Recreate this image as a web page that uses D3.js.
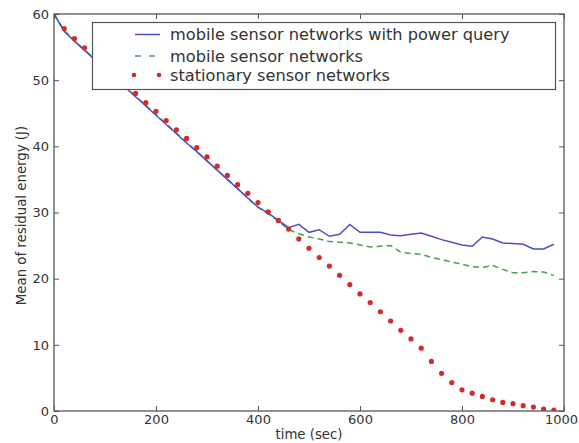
<!DOCTYPE html>
<html>
<head>
<meta charset="utf-8">
<script src="https://cdnjs.cloudflare.com/ajax/libs/d3/7.8.5/d3.min.js"></script>
<style>
  html, body { margin: 0; padding: 0; background: #fff; }
  #chart { width: 579px; height: 443px; }
  text { font-family: "DejaVu Sans", sans-serif; fill: #333; }
</style>
</head>
<body>
<div id="chart"></div>
<script>
// time axis (sec), one sample every 20 s
const time_sec = [0, 20, 40, 60, 80, 100, 120, 140, 160, 180,
  200, 220, 240, 260, 280, 300, 320, 340, 360, 380,
  400, 420, 440, 460, 480, 500, 520, 540, 560, 580,
  600, 620, 640, 660, 680, 700, 720, 740, 760, 780,
  800, 820, 840, 860, 880, 900, 920, 940, 960, 980];

// mean residual energy (J)
const power_query_energy = [60.0, 57.4, 55.9, 54.5, 53.1, 51.7, 50.3, 48.9, 47.5, 46.1,
  44.7, 43.3, 41.9, 40.5, 39.2, 37.8, 36.4, 35.0, 33.6, 32.2,
  30.8, 29.9, 28.8, 27.7, 28.2, 27.0, 27.4, 26.4, 26.7, 28.2,
  27.0, 27.0, 27.0, 26.6, 26.5, 26.7, 26.9, 26.4, 25.9, 25.5,
  25.1, 24.9, 26.3, 26.0, 25.4, 25.3, 25.2, 24.5, 24.5, 25.2];

const mobile_energy = [60.0, 57.5, 56.0, 54.6, 53.2, 51.8, 50.4, 49.0, 47.6, 46.2,
  44.8, 43.4, 42.0, 40.6, 39.2, 37.8, 36.4, 35.0, 33.6, 32.2,
  30.8, 29.8, 28.7, 27.4, 26.8, 26.3, 26.0, 25.6, 25.5, 25.4,
  25.1, 24.8, 24.9, 25.0, 24.0, 23.8, 23.7, 23.2, 22.9, 22.5,
  22.2, 21.8, 21.7, 22.0, 21.4, 20.9, 20.9, 21.1, 21.0, 20.5];

const stationary_energy = [60.0, 57.8, 56.3, 54.9, 53.5, 52.1, 50.8, 49.4, 48.0, 46.6,
  45.3, 43.9, 42.5, 41.2, 39.8, 38.4, 37.0, 35.6, 34.2, 32.9,
  31.5, 30.1, 28.8, 27.5, 26.0, 24.6, 23.2, 21.9, 20.5, 19.1,
  17.7, 16.4, 15.0, 13.6, 12.2, 10.9, 9.5, 7.5, 5.7, 4.3,
  3.2, 2.7, 2.2, 1.7, 1.3, 1.1, 0.8, 0.6, 0.3, 0.15];

const x_ticks = [0, 200, 400, 600, 800, 1000];
const y_ticks = [0, 10, 20, 30, 40, 50, 60];
const legend_labels = ["mobile sensor networks with power query", "mobile sensor networks", "stationary sensor networks"];

class EnergyChart {
  width = 579;
  height = 443;
  margin = {top: 14, right: 15, bottom: 32, left: 54};
  constructor(container){
    this.container = container;
    this.#init();
  }
  #init = () => {
    this.svg = d3.select(this.container)
      .append("svg")
        .attr("width", this.width)
        .attr("height", this.height);
    this.plot_w = this.width - this.margin.left - this.margin.right;
    this.plot_h = this.height - this.margin.top - this.margin.bottom;
    this.x = d3.scaleLinear().domain([0, 1000]).range([0, this.plot_w]);
    this.y = d3.scaleLinear().domain([0, 60]).range([this.plot_h, 0]);
    this.g = this.svg.append("g")
      .attr("transform", `translate(${this.margin.left},${this.margin.top})`);
    this.#draw_series();
    this.#draw_axes();
    this.#draw_legend();
  }
  #draw_series = () => {
    this.svg.append("clipPath")
        .attr("id", "plot-clip")
      .append("rect")
        .attr("width", this.plot_w)
        .attr("height", this.plot_h);
    const data_g = this.g.append("g").attr("clip-path", "url(#plot-clip)");
    const line = (values) => d3.line()
      .x((d, i) => this.x(time_sec[i]))
      .y(d => this.y(d))(values);

    data_g.append("path")
      .attr("d", line(mobile_energy))
      .attr("fill", "none")
      .attr("stroke", "#4e9c4e")
      .attr("stroke-width", 1.5)
      .attr("stroke-dasharray", "6,4");
    data_g.append("path")
      .attr("d", line(power_query_energy))
      .attr("fill", "none")
      .attr("stroke", "#4a4fc2")
      .attr("stroke-width", 1.5);
    data_g.selectAll(".stationary-dot")
      .data(stationary_energy)
      .enter()
      .append("circle")
        .attr("cx", (d, i) => this.x(time_sec[i]))
        .attr("cy", d => this.y(d))
        .attr("r", 2.6)
        .attr("fill", "#d42a2a")
        .classed("stationary-dot", true);
  }
  #draw_axes = () => {
    const axis_color = "#555";
    const bottom = this.g.append("g")
      .attr("transform", `translate(0,${this.plot_h})`)
      .call(d3.axisBottom(this.x).tickValues(x_ticks).tickSize(-5).tickPadding(4).tickFormat(d3.format("d")));
    const left = this.g.append("g")
      .call(d3.axisLeft(this.y).tickValues(y_ticks).tickSize(-5).tickPadding(5).tickFormat(d3.format("d")));
    const top = this.g.append("g")
      .call(d3.axisTop(this.x).tickValues(x_ticks).tickSize(-5).tickFormat(""));
    const right = this.g.append("g")
      .attr("transform", `translate(${this.plot_w},0)`)
      .call(d3.axisRight(this.y).tickValues(y_ticks).tickSize(-5).tickFormat(""));
    [bottom, left, top, right].forEach(a => {
      a.select(".domain").remove();
      a.selectAll("line").attr("stroke", axis_color);
      a.selectAll("text")
        .attr("font-family", "DejaVu Sans, sans-serif")
        .attr("font-size", "13px")
        .attr("fill", "#333");
    });
    // last x label sits against the window edge, nudge it in a little
    bottom.selectAll(".tick text")
      .filter(d => d == 1000)
      .attr("dx", "-3px");
    this.g.append("rect")
      .attr("width", this.plot_w)
      .attr("height", this.plot_h)
      .attr("fill", "none")
      .attr("stroke", axis_color)
      .attr("stroke-width", 1.3);

    this.svg.append("text")
      .text("time (sec)")
      .attr("x", this.margin.left + this.plot_w / 2)
      .attr("y", 439)
      .attr("text-anchor", "middle")
      .attr("font-size", "13.3px");
    this.svg.append("text")
      .text("Mean of residual energy (J)")
      .attr("transform", `translate(26,${this.margin.top + this.plot_h / 2 + 3}) rotate(-90)`)
      .attr("text-anchor", "middle")
      .attr("font-size", "13.3px");
  }
  #draw_legend = () => {
    const legend = this.svg.append("g").classed("legend", true);
    legend.append("rect")
      .attr("x", 92.5)
      .attr("y", 22.5)
      .attr("width", 463)
      .attr("height", 67)
      .attr("fill", "white")
      .attr("stroke", "#555")
      .attr("stroke-width", 1.2);
    const rows = [34.5, 56, 75];
    legend.append("line")
      .attr("x1", 135).attr("x2", 160)
      .attr("y1", rows[0]).attr("y2", rows[0])
      .attr("stroke", "#4a4fc2")
      .attr("stroke-width", 1.5);
    legend.append("line")
      .attr("x1", 135).attr("x2", 160)
      .attr("y1", rows[1]).attr("y2", rows[1])
      .attr("stroke", "#4e9c4e")
      .attr("stroke-width", 1.5)
      .attr("stroke-dasharray", "6,8");
    [134, 159].forEach(cx => {
      legend.append("circle")
        .attr("cx", cx).attr("cy", rows[2])
        .attr("r", 2.3)
        .attr("fill", "#d42a2a");
    });
    legend.selectAll(".legend-text")
      .data(legend_labels)
      .enter()
      .append("text")
        .text(d => d)
        .attr("x", 170)
        .attr("y", (d, i) => rows[i])
        .attr("dy", "0.36em")
        .attr("font-size", "16.2px")
        .classed("legend-text", true);
  }
}

new EnergyChart(document.getElementById("chart"));
</script>
</body>
</html>
